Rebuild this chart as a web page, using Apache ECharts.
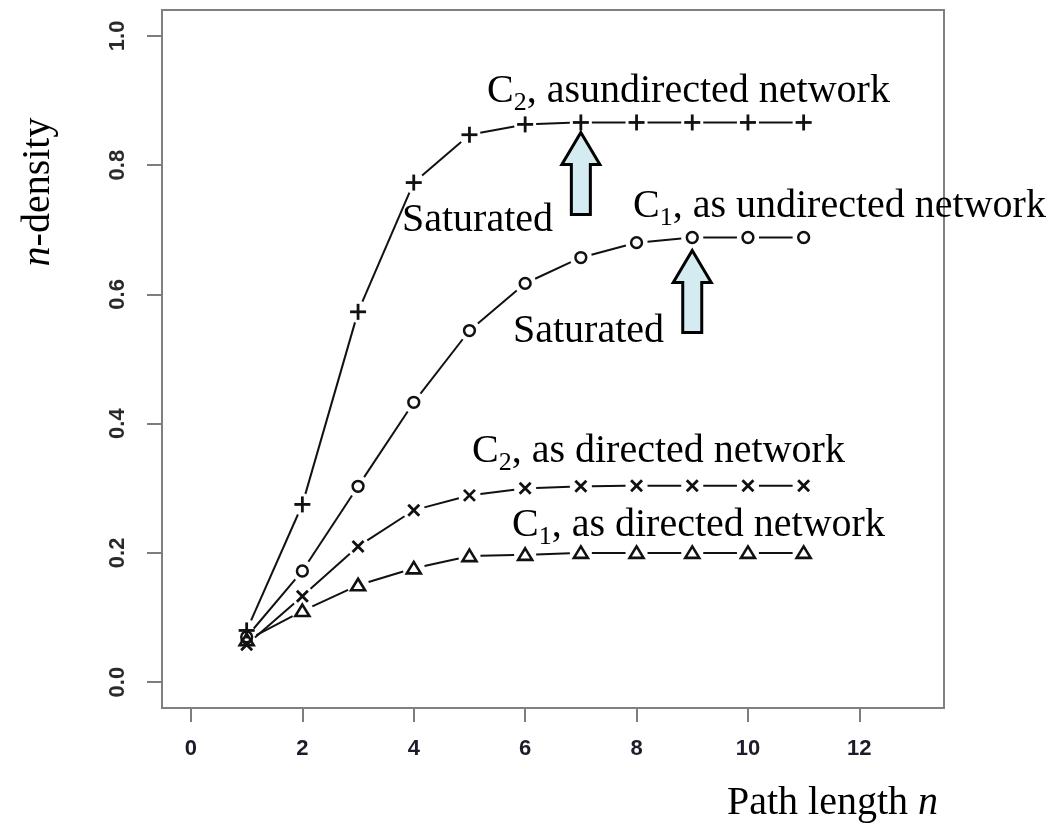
<!DOCTYPE html>
<html>
<head>
<meta charset="utf-8">
<script src="https://cdn.jsdelivr.net/npm/echarts@6/dist/echarts.min.js"></script>
<style>
  html, body { margin: 0; padding: 0; background: #fff; }
  #chart { width: 1063px; height: 826px; }
</style>
</head>
<body>
<div id="chart"></div>
<script>
// Path length n and n-density for the two networks
const pathLength = [1, 2, 3, 4, 5, 6, 7, 8, 9, 10, 11];
const c2Undirected = [0.080, 0.275, 0.573, 0.773, 0.847, 0.863, 0.866, 0.866, 0.866, 0.866, 0.866];
const c1Undirected = [0.070, 0.172, 0.303, 0.433, 0.544, 0.617, 0.657, 0.680, 0.688, 0.688, 0.688];
const c2Directed   = [0.058, 0.133, 0.210, 0.266, 0.289, 0.300, 0.303, 0.304, 0.304, 0.304, 0.304];
const c1Directed   = [0.065, 0.110, 0.150, 0.176, 0.195, 0.197, 0.200, 0.200, 0.200, 0.200, 0.200];
const xTicks = [0, 2, 4, 6, 8, 10, 12];
const yTicks = [0, 0.2, 0.4, 0.6, 0.8, 1.0];

const SERIF = "'Liberation Serif', 'Times New Roman', serif";
const TICKFONT = "'Liberation Sans Narrow', 'Liberation Sans', Arial, sans-serif";
const INK = '#111';
const GAP = 11;

// marker builders, centred on pixel (x, y)
const markers = {
  plus: (x, y) => [
    { type: 'line', shape: { x1: x - 8, y1: y, x2: x + 8, y2: y }, style: { stroke: INK, lineWidth: 2.8 } },
    { type: 'line', shape: { x1: x, y1: y - 8, x2: x, y2: y + 8 }, style: { stroke: INK, lineWidth: 2.8 } }
  ],
  circle: (x, y) => [
    { type: 'circle', shape: { cx: x, cy: y, r: 5.4 }, style: { fill: 'none', stroke: INK, lineWidth: 2.5 } }
  ],
  cross: (x, y) => [
    { type: 'line', shape: { x1: x - 5.5, y1: y - 5.5, x2: x + 5.5, y2: y + 5.5 }, style: { stroke: INK, lineWidth: 2.8 } },
    { type: 'line', shape: { x1: x - 5.5, y1: y + 5.5, x2: x + 5.5, y2: y - 5.5 }, style: { stroke: INK, lineWidth: 2.8 } }
  ],
  triangle: (x, y) => [
    { type: 'polygon', shape: { points: [[x, y - 6.5], [x + 7, y + 5], [x - 7, y + 5]] },
      style: { fill: 'none', stroke: INK, lineWidth: 2.6 } }
  ]
};

// "type b" line: markers joined by segments that stop short of each marker
function pointLineSeries(name, values, marker) {
  return {
    type: 'custom',
    name: name,
    coordinateSystem: 'cartesian2d',
    data: pathLength.map((n, i) => [n, values[i]]),
    renderItem: function (params, api) {
      const i = params.dataIndex;
      const p = api.coord([api.value(0), api.value(1)]);
      const children = markers[marker](p[0], p[1]);
      if (i < pathLength.length - 1) {
        const q = api.coord([pathLength[i + 1], values[i + 1]]);
        const dx = q[0] - p[0], dy = q[1] - p[1];
        const d = Math.sqrt(dx * dx + dy * dy);
        if (d > 2 * GAP) {
          const ux = dx / d, uy = dy / d;
          children.push({
            type: 'line',
            shape: { x1: p[0] + ux * GAP, y1: p[1] + uy * GAP, x2: q[0] - ux * GAP, y2: q[1] - uy * GAP },
            style: { stroke: INK, lineWidth: 2 }
          });
        }
      }
      return { type: 'group', children: children };
    }
  };
}

const chart = echarts.init(document.getElementById('chart'), null, { renderer: 'canvas' });

const axisTickStyle = { color: '#7d7d7d', width: 2 };

chart.setOption({
  backgroundColor: '#fff',
  animation: false,
  grid: {
    left: 162, top: 10, right: 119, bottom: 118,
    show: true, borderColor: '#808080', borderWidth: 2, backgroundColor: 'transparent'
  },
  xAxis: {
    type: 'value', min: -0.52, max: 13.52,
    splitLine: { show: false },
    axisLine: { show: false, onZero: false },
    axisTick: { show: true, customValues: xTicks, length: 14, lineStyle: axisTickStyle },
    axisLabel: {
      customValues: xTicks, margin: 30,
      fontFamily: TICKFONT, fontSize: 22, fontWeight: 'bold', color: '#1c1c2a'
    }
  },
  yAxis: {
    type: 'value', min: -0.04, max: 1.04,
    splitLine: { show: false },
    axisLine: { show: false, onZero: false },
    axisTick: { show: true, customValues: yTicks, length: 15, lineStyle: axisTickStyle },
    axisLabel: {
      customValues: yTicks, margin: 33, rotate: 90,
      formatter: v => v.toFixed(1),
      fontFamily: TICKFONT, fontSize: 22, fontWeight: 'bold', color: '#2a2a2a'
    }
  },
  series: [
    pointLineSeries('C2 undirected', c2Undirected, 'plus'),
    pointLineSeries('C1 undirected', c1Undirected, 'circle'),
    pointLineSeries('C2 directed', c2Directed, 'cross'),
    pointLineSeries('C1 directed', c1Directed, 'triangle')
  ]
});

// Annotations: series labels, "Saturated" notes, arrows and axis titles
const rich = {
  m: { fontFamily: SERIF, fontSize: 40, lineHeight: 50, color: '#000' },
  s: { fontFamily: SERIF, fontSize: 26, lineHeight: 26, verticalAlign: 'bottom', color: '#000' },
  i: { fontFamily: SERIF, fontSize: 40, lineHeight: 50, fontStyle: 'italic', color: '#000' }
};
function label(x, baseline, text) {
  return { type: 'text', x: x, y: baseline - 12, z: 10,
           style: { text: text, rich: rich, align: 'left', verticalAlign: 'middle' } };
}
function upArrow(tip) {
  const x = tip[0], y = tip[1];
  return {
    type: 'polygon', z: 10,
    shape: { points: [[x, y], [x + 19, y + 32], [x + 9.5, y + 32], [x + 9.5, y + 82],
                      [x - 9.5, y + 82], [x - 9.5, y + 32], [x - 19, y + 32]] },
    style: { fill: '#d3ebf1', stroke: '#000', lineWidth: 3, lineJoin: 'miter' }
  };
}
const sat2 = chart.convertToPixel({ gridIndex: 0 }, [7, c2Undirected[6]]);
const sat1 = chart.convertToPixel({ gridIndex: 0 }, [9, c1Undirected[8]]);

chart.setOption({
  graphic: [
    label(487, 103, '{m|C}{s|2}{m|, asundirected network}'),
    label(402, 232, '{m|Saturated}'),
    label(633, 218, '{m|C}{s|1}{m|, as undirected network}'),
    label(513, 343, '{m|Saturated}'),
    label(472, 463, '{m|C}{s|2}{m|, as directed network}'),
    label(512, 537, '{m|C}{s|1}{m|, as directed network}'),
    upArrow([sat2[0], sat2[1] + 10]),
    upArrow([sat1[0], sat1[1] + 13]),
    { type: 'text', x: 938, y: 815 - 12, z: 10,
      style: { text: '{m|Path length }{i|n}', rich: rich, align: 'right', verticalAlign: 'middle' } },
    { type: 'text', x: 38, y: 192, rotation: Math.PI / 2, z: 10,
      style: { text: '{i|n}{m|-density}', rich: rich, align: 'center', verticalAlign: 'middle' } }
  ]
});
</script>
</body>
</html>
